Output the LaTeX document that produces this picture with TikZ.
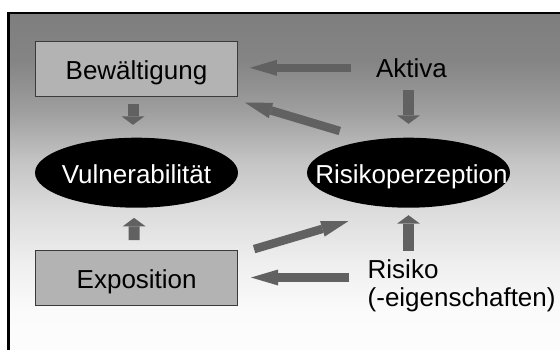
\documentclass[tikz,border=0pt]{standalone}
\usepackage{fontspec}
\setmainfont{Liberation Sans}
\usepackage{xcolor}
\definecolor{cArrow}{HTML}{616161}
\definecolor{cBox}{HTML}{B3B3B3}
\definecolor{cEdge}{HTML}{3A3A3A}
\usepackage{tikz}
\usetikzlibrary{arrows.meta,shapes.geometric,calc}
% Hintergrund: oben grau, nach unten fast weiss
\pgfdeclareverticalshading{bg-fade}{100bp}{color(0bp)=(black!1); color(25bp)=(black!1);
  color(31.1bp)=(black!1.5); color(38.5bp)=(black!6.5); color(45.9bp)=(black!13.5);
  color(53.3bp)=(black!23); color(60.7bp)=(black!38); color(68bp)=(black!48);
  color(75bp)=(black!50.5); color(100bp)=(black!50.5)}
\newcommand{\ovaltext}[1]{\makebox[0pt]{#1}}
\tikzset{
  node-box/.style={draw=cEdge,line width=0.8pt,fill=cBox,minimum width=202pt,
    minimum height=55pt,text height=20pt,text depth=0pt,
    font=\fontsize{26}{28}\selectfont},
  node-oval/.style={ellipse,fill=black,text=white,inner sep=0pt,minimum width=203pt,
    minimum height=70pt,text height=21pt,text depth=0pt,
    font=\fontsize{26}{28}\selectfont},
  node-text/.style={inner sep=0pt,font=\fontsize{26}{28}\selectfont},
  % lange Pfeile: schmaler Kopf, kurze Pfeile: breiter Kopf
  arrow/.style={-{Triangle[length=27pt,width=16pt,line width=0pt]},line width=8.5pt,draw=cArrow},
  arrow-short/.style={-{Triangle[length=8.5pt,width=23pt,line width=0pt]},line width=11pt,draw=cArrow},
}
\begin{document}
\begin{tikzpicture}[x=1pt,y=-1pt]
  \useasboundingbox (0,0) rectangle (560,349);
  \shade[shading=bg-fade] (8.7,13) rectangle (565,355);
  \draw[line width=2.7pt] (8.7,355) |- (565,13);

  \node[node-box] (bew) at (136.5,69) {Bewältigung};
  \node[node-box] (expo) at (136.7,278) {Exposition};
  \node[node-oval] (vul) at (136.5,172.7) {\ovaltext{Vulnerabilität}};
  \node[node-oval] (risp) at (408.5,172.7) {\ovaltext{\hspace{6pt}Risikoperzeption}};
  \node[node-text] (aktiva) at (411.5,67.8) {Aktiva};
  \node[node-text,align=left,anchor=north west] (risk) at (367.5,259) {Risiko\\(-eigenschaften)};

  \draw[arrow,shorten <=25pt,shorten >=12pt] (aktiva.west) -- (aktiva.west -| bew.east);
  \draw[arrow] ($(risp.west)+(33,-41.7)$) -- ($(bew.south east)+(7.2,5.8)$);
  \draw[arrow-short,shorten <=7pt,shorten >=12.7pt] ([xshift=-3.5pt]bew.south) -- ([xshift=-3.5pt]vul.north);
  \draw[arrow-short,shorten <=12.7pt,shorten >=13.7pt] (aktiva.south -| risp.north) -- (risp.north);
  \draw[arrow-short,shorten <=10pt,shorten >=10pt] ([xshift=-2.5pt]expo.north) -- ([xshift=-2.5pt]vul.south);
  \draw[arrow] ($(expo.north east)+(16,-1)$) -- ($(risp.south)+(-60.2,13.3)$);
  \draw[arrow-short,shorten <=8.3pt,shorten >=7.3pt] (risk.north -| risp.south) -- (risp.south);
  \draw[arrow] ($(risk.north west)+(-18.2,18.5)$) -- ($(expo.east)+(13,-0.5)$);
\end{tikzpicture}
\end{document}
